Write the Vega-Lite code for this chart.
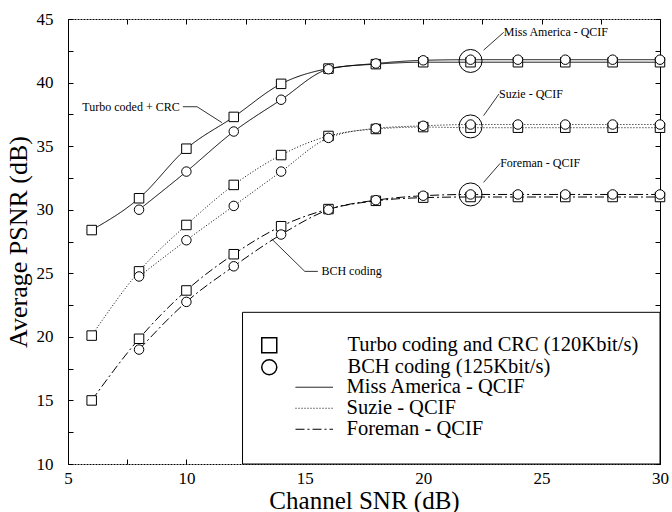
{
  "$schema": "https://vega.github.io/schema/vega-lite/v6.json",
  "width": 592,
  "height": 445,
  "autosize": {"type": "none"},
  "padding": {"left": 68, "top": 19, "right": 12, "bottom": 48},
  "background": "white",
  "config": {
    "view": {"stroke": null},
    "font": "Liberation Serif",
    "axis": {
      "grid": false,
      "domainColor": "black",
      "tickColor": "black",
      "labelColor": "black",
      "titleColor": "black",
      "labelFont": "Liberation Serif",
      "titleFont": "Liberation Serif",
      "labelFontSize": 17,
      "titleFontSize": 25,
      "titleFontWeight": "normal",
      "tickSize": -5,
      "domainWidth": 1,
      "tickWidth": 1
    },
    "legend": {
      "labelFont": "Liberation Serif",
      "labelColor": "black",
      "labelFontSize": 20.5,
      "labelLimit": 400,
      "padding": 0,
      "rowPadding": 0
    }
  },
  "datasets": {
    "curves": [
      {"video": "Miss America - QCIF", "coding": "Turbo coding and CRC (120Kbit/s)", "snr": 6, "psnr": 28.4},
      {"video": "Miss America - QCIF", "coding": "Turbo coding and CRC (120Kbit/s)", "snr": 8, "psnr": 30.9},
      {"video": "Miss America - QCIF", "coding": "Turbo coding and CRC (120Kbit/s)", "snr": 10, "psnr": 34.8},
      {"video": "Miss America - QCIF", "coding": "Turbo coding and CRC (120Kbit/s)", "snr": 12, "psnr": 37.3},
      {"video": "Miss America - QCIF", "coding": "Turbo coding and CRC (120Kbit/s)", "snr": 14, "psnr": 39.9},
      {"video": "Miss America - QCIF", "coding": "Turbo coding and CRC (120Kbit/s)", "snr": 16, "psnr": 41.1},
      {"video": "Miss America - QCIF", "coding": "Turbo coding and CRC (120Kbit/s)", "snr": 18, "psnr": 41.45},
      {"video": "Miss America - QCIF", "coding": "Turbo coding and CRC (120Kbit/s)", "snr": 20, "psnr": 41.6},
      {"video": "Miss America - QCIF", "coding": "Turbo coding and CRC (120Kbit/s)", "snr": 22, "psnr": 41.6},
      {"video": "Miss America - QCIF", "coding": "Turbo coding and CRC (120Kbit/s)", "snr": 24, "psnr": 41.6},
      {"video": "Miss America - QCIF", "coding": "Turbo coding and CRC (120Kbit/s)", "snr": 26, "psnr": 41.6},
      {"video": "Miss America - QCIF", "coding": "Turbo coding and CRC (120Kbit/s)", "snr": 28, "psnr": 41.6},
      {"video": "Miss America - QCIF", "coding": "Turbo coding and CRC (120Kbit/s)", "snr": 30, "psnr": 41.6},
      {"video": "Miss America - QCIF", "coding": "BCH coding (125Kbit/s)", "snr": 8, "psnr": 30.0},
      {"video": "Miss America - QCIF", "coding": "BCH coding (125Kbit/s)", "snr": 10, "psnr": 33.0},
      {"video": "Miss America - QCIF", "coding": "BCH coding (125Kbit/s)", "snr": 12, "psnr": 36.15},
      {"video": "Miss America - QCIF", "coding": "BCH coding (125Kbit/s)", "snr": 14, "psnr": 38.65},
      {"video": "Miss America - QCIF", "coding": "BCH coding (125Kbit/s)", "snr": 16, "psnr": 41.05},
      {"video": "Miss America - QCIF", "coding": "BCH coding (125Kbit/s)", "snr": 18, "psnr": 41.5},
      {"video": "Miss America - QCIF", "coding": "BCH coding (125Kbit/s)", "snr": 20, "psnr": 41.75},
      {"video": "Miss America - QCIF", "coding": "BCH coding (125Kbit/s)", "snr": 22, "psnr": 41.8},
      {"video": "Miss America - QCIF", "coding": "BCH coding (125Kbit/s)", "snr": 24, "psnr": 41.8},
      {"video": "Miss America - QCIF", "coding": "BCH coding (125Kbit/s)", "snr": 26, "psnr": 41.8},
      {"video": "Miss America - QCIF", "coding": "BCH coding (125Kbit/s)", "snr": 28, "psnr": 41.8},
      {"video": "Miss America - QCIF", "coding": "BCH coding (125Kbit/s)", "snr": 30, "psnr": 41.8},
      {"video": "Suzie - QCIF", "coding": "Turbo coding and CRC (120Kbit/s)", "snr": 6, "psnr": 20.1},
      {"video": "Suzie - QCIF", "coding": "Turbo coding and CRC (120Kbit/s)", "snr": 8, "psnr": 25.15},
      {"video": "Suzie - QCIF", "coding": "Turbo coding and CRC (120Kbit/s)", "snr": 10, "psnr": 28.8},
      {"video": "Suzie - QCIF", "coding": "Turbo coding and CRC (120Kbit/s)", "snr": 12, "psnr": 31.95},
      {"video": "Suzie - QCIF", "coding": "Turbo coding and CRC (120Kbit/s)", "snr": 14, "psnr": 34.3},
      {"video": "Suzie - QCIF", "coding": "Turbo coding and CRC (120Kbit/s)", "snr": 16, "psnr": 35.8},
      {"video": "Suzie - QCIF", "coding": "Turbo coding and CRC (120Kbit/s)", "snr": 18, "psnr": 36.35},
      {"video": "Suzie - QCIF", "coding": "Turbo coding and CRC (120Kbit/s)", "snr": 20, "psnr": 36.5},
      {"video": "Suzie - QCIF", "coding": "Turbo coding and CRC (120Kbit/s)", "snr": 22, "psnr": 36.45},
      {"video": "Suzie - QCIF", "coding": "Turbo coding and CRC (120Kbit/s)", "snr": 24, "psnr": 36.45},
      {"video": "Suzie - QCIF", "coding": "Turbo coding and CRC (120Kbit/s)", "snr": 26, "psnr": 36.45},
      {"video": "Suzie - QCIF", "coding": "Turbo coding and CRC (120Kbit/s)", "snr": 28, "psnr": 36.45},
      {"video": "Suzie - QCIF", "coding": "Turbo coding and CRC (120Kbit/s)", "snr": 30, "psnr": 36.45},
      {"video": "Suzie - QCIF", "coding": "BCH coding (125Kbit/s)", "snr": 8, "psnr": 24.75},
      {"video": "Suzie - QCIF", "coding": "BCH coding (125Kbit/s)", "snr": 10, "psnr": 27.6},
      {"video": "Suzie - QCIF", "coding": "BCH coding (125Kbit/s)", "snr": 12, "psnr": 30.3},
      {"video": "Suzie - QCIF", "coding": "BCH coding (125Kbit/s)", "snr": 14, "psnr": 33.0},
      {"video": "Suzie - QCIF", "coding": "BCH coding (125Kbit/s)", "snr": 16, "psnr": 35.65},
      {"video": "Suzie - QCIF", "coding": "BCH coding (125Kbit/s)", "snr": 18, "psnr": 36.4},
      {"video": "Suzie - QCIF", "coding": "BCH coding (125Kbit/s)", "snr": 20, "psnr": 36.6},
      {"video": "Suzie - QCIF", "coding": "BCH coding (125Kbit/s)", "snr": 22, "psnr": 36.7},
      {"video": "Suzie - QCIF", "coding": "BCH coding (125Kbit/s)", "snr": 24, "psnr": 36.7},
      {"video": "Suzie - QCIF", "coding": "BCH coding (125Kbit/s)", "snr": 26, "psnr": 36.7},
      {"video": "Suzie - QCIF", "coding": "BCH coding (125Kbit/s)", "snr": 28, "psnr": 36.7},
      {"video": "Suzie - QCIF", "coding": "BCH coding (125Kbit/s)", "snr": 30, "psnr": 36.7},
      {"video": "Foreman - QCIF", "coding": "Turbo coding and CRC (120Kbit/s)", "snr": 6, "psnr": 15.0},
      {"video": "Foreman - QCIF", "coding": "Turbo coding and CRC (120Kbit/s)", "snr": 8, "psnr": 19.85},
      {"video": "Foreman - QCIF", "coding": "Turbo coding and CRC (120Kbit/s)", "snr": 10, "psnr": 23.65},
      {"video": "Foreman - QCIF", "coding": "Turbo coding and CRC (120Kbit/s)", "snr": 12, "psnr": 26.5},
      {"video": "Foreman - QCIF", "coding": "Turbo coding and CRC (120Kbit/s)", "snr": 14, "psnr": 28.7},
      {"video": "Foreman - QCIF", "coding": "Turbo coding and CRC (120Kbit/s)", "snr": 16, "psnr": 30.05},
      {"video": "Foreman - QCIF", "coding": "Turbo coding and CRC (120Kbit/s)", "snr": 18, "psnr": 30.7},
      {"video": "Foreman - QCIF", "coding": "Turbo coding and CRC (120Kbit/s)", "snr": 20, "psnr": 30.95},
      {"video": "Foreman - QCIF", "coding": "Turbo coding and CRC (120Kbit/s)", "snr": 22, "psnr": 31.0},
      {"video": "Foreman - QCIF", "coding": "Turbo coding and CRC (120Kbit/s)", "snr": 24, "psnr": 31.0},
      {"video": "Foreman - QCIF", "coding": "Turbo coding and CRC (120Kbit/s)", "snr": 26, "psnr": 31.0},
      {"video": "Foreman - QCIF", "coding": "Turbo coding and CRC (120Kbit/s)", "snr": 28, "psnr": 31.0},
      {"video": "Foreman - QCIF", "coding": "Turbo coding and CRC (120Kbit/s)", "snr": 30, "psnr": 31.0},
      {"video": "Foreman - QCIF", "coding": "BCH coding (125Kbit/s)", "snr": 8, "psnr": 19.0},
      {"video": "Foreman - QCIF", "coding": "BCH coding (125Kbit/s)", "snr": 10, "psnr": 22.75},
      {"video": "Foreman - QCIF", "coding": "BCH coding (125Kbit/s)", "snr": 12, "psnr": 25.55},
      {"video": "Foreman - QCIF", "coding": "BCH coding (125Kbit/s)", "snr": 14, "psnr": 28.05},
      {"video": "Foreman - QCIF", "coding": "BCH coding (125Kbit/s)", "snr": 16, "psnr": 30.0},
      {"video": "Foreman - QCIF", "coding": "BCH coding (125Kbit/s)", "snr": 18, "psnr": 30.75},
      {"video": "Foreman - QCIF", "coding": "BCH coding (125Kbit/s)", "snr": 20, "psnr": 31.1},
      {"video": "Foreman - QCIF", "coding": "BCH coding (125Kbit/s)", "snr": 22, "psnr": 31.2},
      {"video": "Foreman - QCIF", "coding": "BCH coding (125Kbit/s)", "snr": 24, "psnr": 31.2},
      {"video": "Foreman - QCIF", "coding": "BCH coding (125Kbit/s)", "snr": 26, "psnr": 31.2},
      {"video": "Foreman - QCIF", "coding": "BCH coding (125Kbit/s)", "snr": 28, "psnr": 31.2},
      {"video": "Foreman - QCIF", "coding": "BCH coding (125Kbit/s)", "snr": 30, "psnr": 31.2}
    ],
    "box": [{"x1": 12.37, "x2": 30, "y1": 10, "y2": 21.93}],
    "rings": [
      {"snr": 22, "psnr": 41.7},
      {"snr": 22, "psnr": 36.55},
      {"snr": 22, "psnr": 31.2}
    ],
    "leaders": [
      {"x1": 9.85, "y1": 38.1, "x2": 10.45, "y2": 38.1},
      {"x1": 10.45, "y1": 38.1, "x2": 11.5, "y2": 36.85},
      {"x1": 13.6, "y1": 27.7, "x2": 15.0, "y2": 25.15},
      {"x1": 15.0, "y1": 25.15, "x2": 15.55, "y2": 25.15},
      {"x1": 22.55, "y1": 42.55, "x2": 23.4, "y2": 43.95},
      {"x1": 22.55, "y1": 37.4, "x2": 23.2, "y2": 39.1},
      {"x1": 22.55, "y1": 32.15, "x2": 23.25, "y2": 33.65}
    ],
    "labelsRight": [
      {"snr": 9.8, "psnr": 38.1, "text": "Turbo coded + CRC"}
    ],
    "labelsLeft": [
      {"snr": 15.7, "psnr": 25.15, "text": "BCH coding"},
      {"snr": 23.4, "psnr": 43.95, "text": "Miss America - QCIF"},
      {"snr": 23.2, "psnr": 39.1, "text": "Suzie - QCIF"},
      {"snr": 23.25, "psnr": 33.65, "text": "Foreman - QCIF"}
    ]
  },
  "resolve": {"axis": {"x": "independent", "y": "independent"}},
  "layer": [
    {
      "data": {"name": "box"},
      "mark": {"type": "rect", "fill": "white", "stroke": "black", "strokeWidth": 1},
      "encoding": {
        "x": {"field": "x1", "type": "quantitative", "scale": {"domain": [5, 30], "nice": false}, "axis": null},
        "x2": {"field": "x2"},
        "y": {"field": "y1", "type": "quantitative", "scale": {"domain": [10, 45], "nice": false}, "axis": null},
        "y2": {"field": "y2"}
      }
    },
    {
      "data": {"name": "curves"},
      "mark": {"type": "line", "interpolate": "monotone", "stroke": "black", "strokeWidth": 1},
      "encoding": {
        "x": {
          "field": "snr", "type": "quantitative",
          "scale": {"domain": [5, 30], "nice": false},
          "axis": {
            "orient": "bottom", "title": "Channel SNR (dB)",
            "labelFont": "Liberation Serif", "titleFont": "Liberation Serif",
            "labelFontSize": 17, "titleFontSize": 25,
            "values": [5, 7.5, 10, 12.5, 15, 17.5, 20, 22.5, 25, 27.5, 30],
            "labelExpr": "datum.value % 5 === 0 ? datum.label : ''",
            "labelPadding": 11, "titlePadding": 2,
            "domainDash": [2, 1], "labelFlush": false
          }
        },
        "y": {
          "field": "psnr", "type": "quantitative",
          "scale": {"domain": [10, 45], "nice": false},
          "axis": {
            "orient": "left", "title": "Average PSNR (dB)",
            "labelFont": "Liberation Serif", "titleFont": "Liberation Serif",
            "labelFontSize": 17, "titleFontSize": 26,
            "values": [10, 12.5, 15, 17.5, 20, 22.5, 25, 27.5, 30, 32.5, 35, 37.5, 40, 42.5, 45],
            "labelExpr": "datum.value % 5 === 0 ? datum.label : ''",
            "labelPadding": 20, "titlePadding": 5, "labelFlush": false
          }
        },
        "strokeDash": {
          "field": "video", "type": "nominal",
          "scale": {
            "domain": ["Miss America - QCIF", "Suzie - QCIF", "Foreman - QCIF"],
            "range": [[1, 0], [1, 2], [9, 3, 2, 3]]
          },
          "legend": {
            "orient": "none", "legendX": 236, "legendY": 358, "title": null,
            "symbolType": "M-2.5,0H2.5", "symbolSize": 225,
            "symbolStrokeColor": "black", "symbolStrokeWidth": 1,
            "labelOffset": 22, "labelFontSize": 20.5, "rowPadding": 0
          }
        },
        "detail": {"field": "coding", "type": "nominal"}
      }
    },
    {
      "data": {"name": "curves"},
      "mark": {"type": "point", "filled": true, "fill": "white", "stroke": "black", "strokeWidth": 1, "size": 90, "opacity": 1},
      "encoding": {
        "x": {"field": "snr", "type": "quantitative", "axis": null},
        "y": {"field": "psnr", "type": "quantitative", "axis": null},
        "shape": {
          "field": "coding", "type": "nominal",
          "scale": {
            "domain": ["Turbo coding and CRC (120Kbit/s)", "BCH coding (125Kbit/s)"],
            "range": ["square", "circle"]
          },
          "legend": {
            "orient": "none", "legendX": 191, "legendY": 316, "title": null,
            "symbolSize": 225, "labelOffset": 68, "labelFontSize": 20.5, "rowPadding": 0,
            "encode": {
              "symbols": {
                "update": {
                  "fill": {"value": "white"},
                  "stroke": {"value": "black"},
                  "strokeWidth": {"value": 0.8},
                  "opacity": {"value": 1}
                }
              }
            }
          }
        }
      }
    },
    {
      "data": {"name": "rings"},
      "mark": {"type": "point", "shape": "circle", "filled": false, "stroke": "black", "strokeWidth": 1, "size": 529, "opacity": 1},
      "encoding": {
        "x": {
          "field": "snr", "type": "quantitative",
          "axis": {"orient": "top", "title": null, "labels": false,
                   "values": [5, 7.5, 10, 12.5, 15, 17.5, 20, 22.5, 25, 27.5, 30], "domainDash": [2, 1]}
        },
        "y": {
          "field": "psnr", "type": "quantitative",
          "axis": {"orient": "right", "title": null, "labels": false,
                   "values": [10, 12.5, 15, 17.5, 20, 22.5, 25, 27.5, 30, 32.5, 35, 37.5, 40, 42.5, 45]}
        }
      }
    },
    {
      "data": {"name": "leaders"},
      "mark": {"type": "rule", "stroke": "black", "strokeWidth": 0.8},
      "encoding": {
        "x": {"field": "x1", "type": "quantitative", "axis": null},
        "y": {"field": "y1", "type": "quantitative", "axis": null},
        "x2": {"field": "x2"},
        "y2": {"field": "y2"}
      }
    },
    {
      "data": {"name": "labelsRight"},
      "mark": {"type": "text", "align": "right", "baseline": "middle", "fontSize": 12, "font": "Liberation Serif", "color": "black", "dx": -2},
      "encoding": {
        "x": {"field": "snr", "type": "quantitative", "axis": null},
        "y": {"field": "psnr", "type": "quantitative", "axis": null},
        "text": {"field": "text"}
      }
    },
    {
      "data": {"name": "labelsLeft"},
      "mark": {"type": "text", "align": "left", "baseline": "middle", "fontSize": 12, "font": "Liberation Serif", "color": "black"},
      "encoding": {
        "x": {"field": "snr", "type": "quantitative", "axis": null},
        "y": {"field": "psnr", "type": "quantitative", "axis": null},
        "text": {"field": "text"}
      }
    }
  ]
}
